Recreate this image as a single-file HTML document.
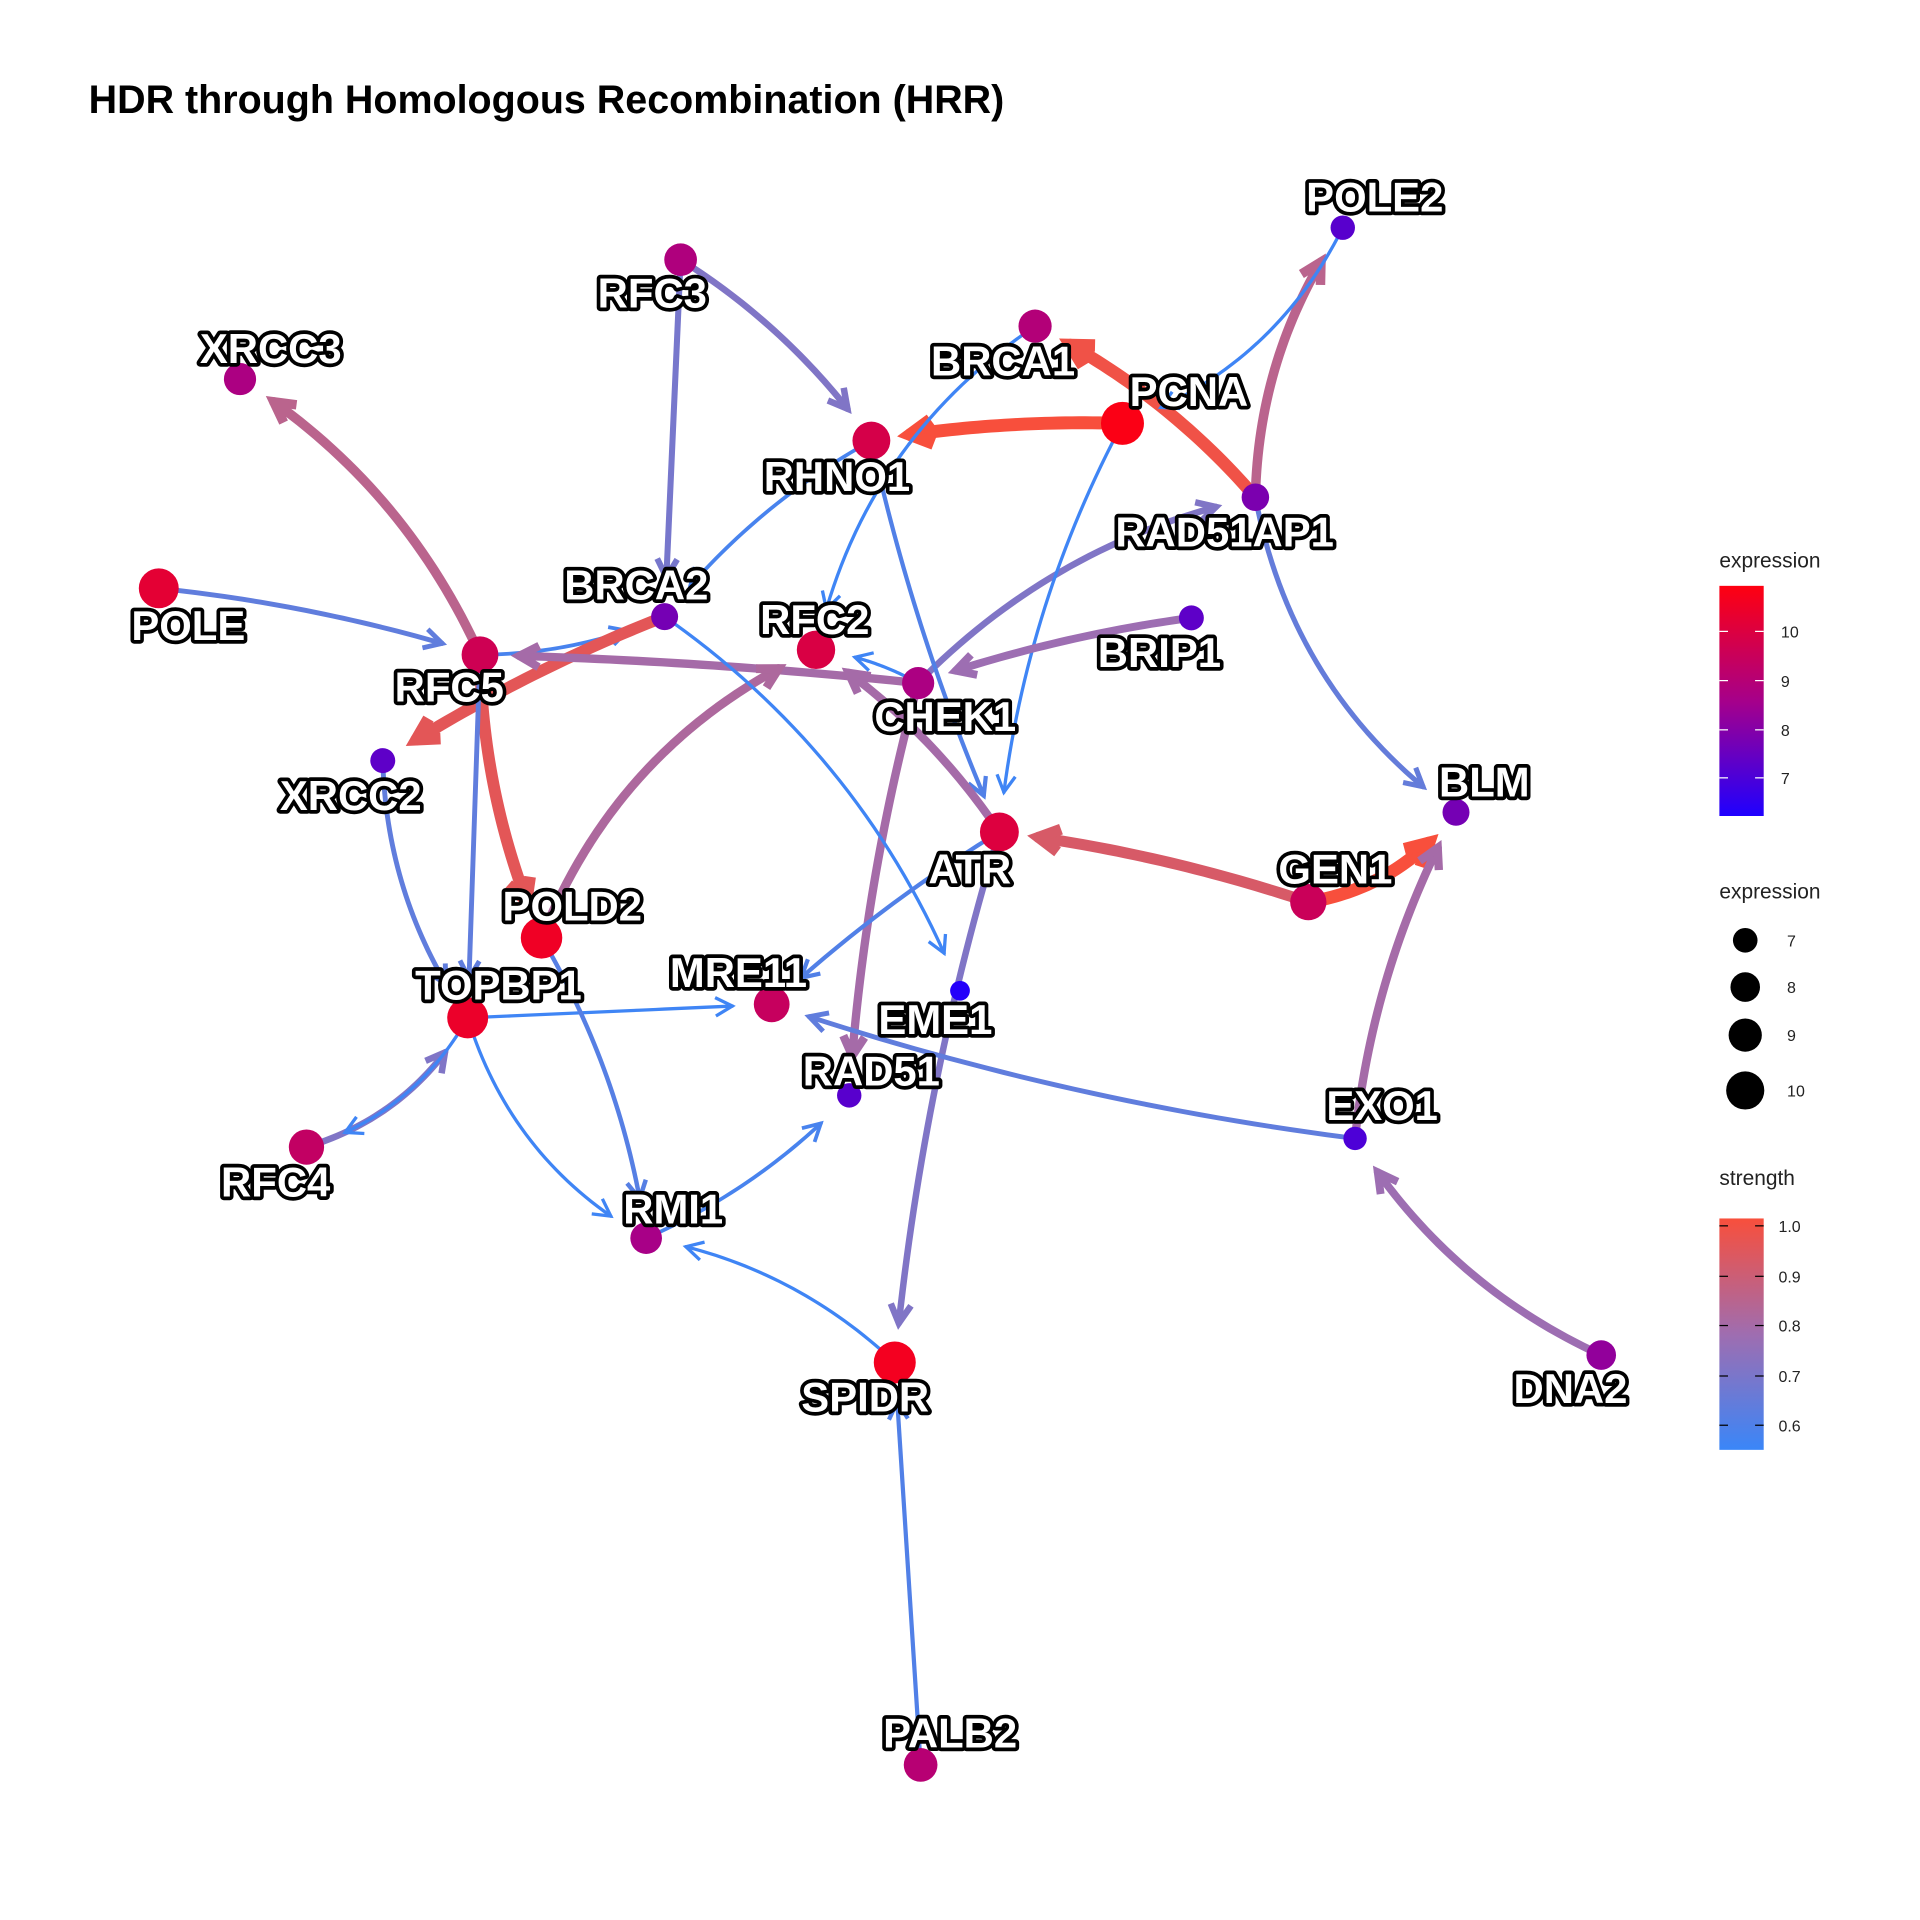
<!DOCTYPE html>
<html><head><meta charset="utf-8"><style>
html,body{margin:0;padding:0;background:#fff}
svg{display:block}
.lbl{font-family:"Liberation Sans",sans-serif;font-weight:bold;font-size:34px;fill:#fff;stroke:#000;stroke-width:6px;paint-order:stroke;stroke-linejoin:round;text-anchor:middle}
.lg{font-family:"Liberation Sans",sans-serif;font-size:17px;fill:#222}
.lgs{font-family:"Liberation Sans",sans-serif;font-size:13px;fill:#222}
</style></head><body>
<svg id="chart" width="1920" height="1920" viewBox="0 0 1560 1560" xmlns="http://www.w3.org/2000/svg">
<text x="72" y="92" font-family="Liberation Sans, sans-serif" font-weight="bold" font-size="32" textLength="744" lengthAdjust="spacingAndGlyphs">HDR through Homologous Recombination (HRR)</text>
<g id="edges"></g>
<g id="nodes"></g>
<g id="labels"></g>
<g>
<defs>
<linearGradient id="gexp" x1="0" y1="1" x2="0" y2="0"><stop offset="0" stop-color="#1f00ff"/><stop offset="0.5" stop-color="#a6008a"/><stop offset="1" stop-color="#ff0010"/></linearGradient>
<linearGradient id="gstr" x1="0" y1="1" x2="0" y2="0"><stop offset="0" stop-color="#3a86f8"/><stop offset="0.5" stop-color="#9f6db0"/><stop offset="1" stop-color="#f84f3c"/></linearGradient>
</defs>
<text class="lg" x="1397" y="461">expression</text>
<rect x="1397" y="476" width="36" height="187" fill="url(#gexp)"/>
<g stroke="#fff" stroke-width="1"><line x1="1397" y1="513" x2="1404" y2="513"/><line x1="1426" y1="513" x2="1433" y2="513"/><line x1="1397" y1="553" x2="1404" y2="553"/><line x1="1426" y1="553" x2="1433" y2="553"/><line x1="1397" y1="593" x2="1404" y2="593"/><line x1="1426" y1="593" x2="1433" y2="593"/><line x1="1397" y1="632" x2="1404" y2="632"/><line x1="1426" y1="632" x2="1433" y2="632"/></g>
<text class="lgs" x="1447" y="518">10</text><text class="lgs" x="1447" y="558">9</text><text class="lgs" x="1447" y="598">8</text><text class="lgs" x="1447" y="637">7</text>
</g>
<g>
<text class="lg" x="1397" y="730">expression</text>
<circle cx="1418" cy="764" r="10"/><circle cx="1418" cy="802" r="12"/><circle cx="1418" cy="841" r="13.5"/><circle cx="1418" cy="886" r="15.5"/>
<text class="lgs" x="1452" y="769">7</text><text class="lgs" x="1452" y="807">8</text><text class="lgs" x="1452" y="846">9</text><text class="lgs" x="1452" y="891">10</text>
</g>
<g>
<text class="lg" x="1397" y="963">strength</text>
<rect x="1397" y="990" width="36" height="188" fill="url(#gstr)"/>
<g stroke="#000" stroke-width="1"><line x1="1397" y1="996" x2="1404" y2="996"/><line x1="1426" y1="996" x2="1433" y2="996"/><line x1="1397" y1="1037" x2="1404" y2="1037"/><line x1="1426" y1="1037" x2="1433" y2="1037"/><line x1="1397" y1="1077" x2="1404" y2="1077"/><line x1="1426" y1="1077" x2="1433" y2="1077"/><line x1="1397" y1="1118" x2="1404" y2="1118"/><line x1="1426" y1="1118" x2="1433" y2="1118"/><line x1="1397" y1="1158" x2="1404" y2="1158"/><line x1="1426" y1="1158" x2="1433" y2="1158"/></g>
<text class="lgs" x="1445" y="1001">1.0</text><text class="lgs" x="1445" y="1042">0.9</text><text class="lgs" x="1445" y="1082">0.8</text><text class="lgs" x="1445" y="1123">0.7</text><text class="lgs" x="1445" y="1163">0.6</text>
</g>
</svg>
<script>
const nodeNames=["POLE2","RFC3","XRCC3","BRCA1","PCNA","RHNO1","RAD51AP1","POLE","BRCA2","RFC2","BRIP1","RFC5","CHEK1","XRCC2","BLM","ATR","GEN1","POLD2","TOPBP1","MRE11","EME1","RAD51","EXO1","RFC4","RMI1","SPIDR","DNA2","PALB2"];
const nodeX=[1091,553,195,841,912,708,1020,129,540,663,968,390,746,311,1183,812,1063,440,380,627,780,690,1101,249,525,727,1301,748];
const nodeY=[185,211,308,265,344,358,404,478,501,528,502,532,555,618,660,676,733,762,827,816,805,890,925,932,1006,1107,1101,1434];
const expression=[7.2,8.8,8.7,8.9,10.8,9.8,7.8,10.2,7.7,9.9,7.3,9.6,8.7,7.3,7.7,10.0,9.5,10.5,10.4,9.4,6.3,7.2,7.0,9.3,8.6,10.6,8.2,9.0];
const labelDX=[26,-23,25,-26,54,-28,-25,24,-23,-1,-26,-25,22,-26,23,-24,22,25,25,-27,-20,18,22,-25,22,-24,-25,24];
const labelDY=[-25,27,-25,28,-26,29,28,30,-26,-25,28,26,27,28,-25,30,-27,-26,-27,-26,23,-20,-27,28,-24,28,27,-26];
const edgeFrom=["PCNA","RAD51AP1","RAD51AP1","RAD51AP1","CHEK1","POLE2","BRCA1","RHNO1","PCNA","RHNO1","RFC3","RFC3","POLE","RFC5","RFC5","BRCA2","RFC5","CHEK1","RFC5","POLD2","CHEK1","ATR","CHEK1","BRIP1","BRCA2","ATR","GEN1","GEN1","EXO1","DNA2","ATR","EXO1","TOPBP1","TOPBP1","POLD2","RMI1","RFC4","TOPBP1","XRCC2","SPIDR","PALB2"];
const edgeTo=["RHNO1","BRCA1","POLE2","BLM","RAD51AP1","PCNA","RFC2","BRCA2","ATR","ATR","RHNO1","BRCA2","RFC5","BRCA2","XRCC3","XRCC2","POLD2","RFC5","TOPBP1","RFC2","RFC2","RFC2","RAD51","CHEK1","EME1","SPIDR","ATR","BLM","BLM","EXO1","MRE11","MRE11","MRE11","RMI1","RMI1","RAD51","TOPBP1","RFC4","TOPBP1","RMI1","SPIDR"];
const strength=[1.0,0.98,0.85,0.66,0.72,0.58,0.58,0.6,0.58,0.62,0.72,0.7,0.65,0.6,0.85,0.95,0.95,0.8,0.65,0.82,0.58,0.8,0.8,0.78,0.58,0.72,0.92,1.0,0.8,0.78,0.62,0.65,0.58,0.58,0.63,0.6,0.72,0.58,0.65,0.58,0.62];
const curve=[0.05,0.1,-0.15,0.2,-0.15,-0.2,0.2,0.1,0.1,0.05,-0.1,0,-0.05,0.1,0.15,0.05,0.1,0.02,0,-0.2,0.1,0.1,0.05,0.05,-0.15,0.05,0.05,0.2,-0.1,-0.15,0.05,-0.05,0,0.2,-0.1,0.1,0.2,-0.2,0.15,0.15,0];

const NS="http://www.w3.org/2000/svg";
function lerp(a,b,t){return a+(b-a)*t}
function mix(c1,c2,t){return [0,1,2].map(i=>Math.round(lerp(c1[i],c2[i],t)))}
function expColor(e){const t=Math.max(0,Math.min(1,(e-6.2)/(10.9-6.2)));const c=t<0.5?mix([31,0,255],[166,0,138],t/0.5):mix([166,0,138],[255,0,16],(t-0.5)/0.5);return `rgb(${c})`}
function strColor(s){const t=Math.max(0,Math.min(1,(s-0.57)/(1.0-0.57)));const c=t<0.5?mix([58,134,248],[159,109,176],t/0.5):mix([159,109,176],[248,79,60],(t-0.5)/0.5);return `rgb(${c})`}
function strWidth(s){return 2.5+(s-0.57)/(0.43)*8}
function radius(e){return 9.5+(e-7)*2.1}
function idx(n){return nodeNames.indexOf(n)}

const eg=document.getElementById('edges');
for(let k=0;k<edgeFrom.length;k++){
  const a=idx(edgeFrom[k]),b=idx(edgeTo[k]);
  const x1=nodeX[a],y1=nodeY[a],x2=nodeX[b],y2=nodeY[b];
  const dx=x2-x1,dy=y2-y1,L=Math.hypot(dx,dy);
  const cx=(x1+x2)/2-dy*curve[k],cy=(y1+y2)/2+dx*curve[k];
  const P=t=>[(1-t)*(1-t)*x1+2*(1-t)*t*cx+t*t*x2,(1-t)*(1-t)*y1+2*(1-t)*t*cy+t*t*y2];
  const te=1-Math.min(0.45,32/L), ts=Math.min(0.3,8/L);
  let d=`M${P(ts).join(',')}`;
  for(let i=1;i<=30;i++){const t=ts+(te-ts)*i/30;d+=` L${P(t).join(',')}`}
  const col=strColor(strength[k]),w=strWidth(strength[k]);
  const p=document.createElementNS(NS,'path');
  p.setAttribute('d',d);p.setAttribute('fill','none');p.setAttribute('stroke',col);
  p.setAttribute('stroke-width',w);p.setAttribute('stroke-linecap','round');p.setAttribute('stroke-linejoin','round');
  
  
  eg.appendChild(p);
  const [ex,ey]=P(te),[qx,qy]=P(te-0.02);
  let ang=Math.atan2(ey-qy,ex-qx);const al=14+w*0.6;
  const h=document.createElementNS(NS,'path');
  const l1=[ex-al*Math.cos(ang-0.5),ey-al*Math.sin(ang-0.5)],l2=[ex-al*Math.cos(ang+0.5),ey-al*Math.sin(ang+0.5)];
  h.setAttribute('d',`M${l1.join(',')} L${ex},${ey} L${l2.join(',')}`);
  h.setAttribute('fill','none');h.setAttribute('stroke',col);h.setAttribute('stroke-width',w);
  h.setAttribute('stroke-linecap','butt');h.setAttribute('stroke-linejoin','miter');
  
  
  eg.appendChild(h);
}
const ng=document.getElementById('nodes'),lg=document.getElementById('labels');
for(let i=0;i<nodeNames.length;i++){
  const c=document.createElementNS(NS,'circle');
  c.setAttribute('cx',nodeX[i]);c.setAttribute('cy',nodeY[i]);c.setAttribute('r',radius(expression[i]));
  c.setAttribute('fill',expColor(expression[i]));
  
  
  ng.appendChild(c);
  const t=document.createElementNS(NS,'text');
  t.setAttribute('class','lbl');t.setAttribute('x',nodeX[i]+labelDX[i]);t.setAttribute('y',nodeY[i]+labelDY[i]+12);
  t.textContent=nodeNames[i];
  
  
  lg.appendChild(t);
}
</script>
</body></html>
